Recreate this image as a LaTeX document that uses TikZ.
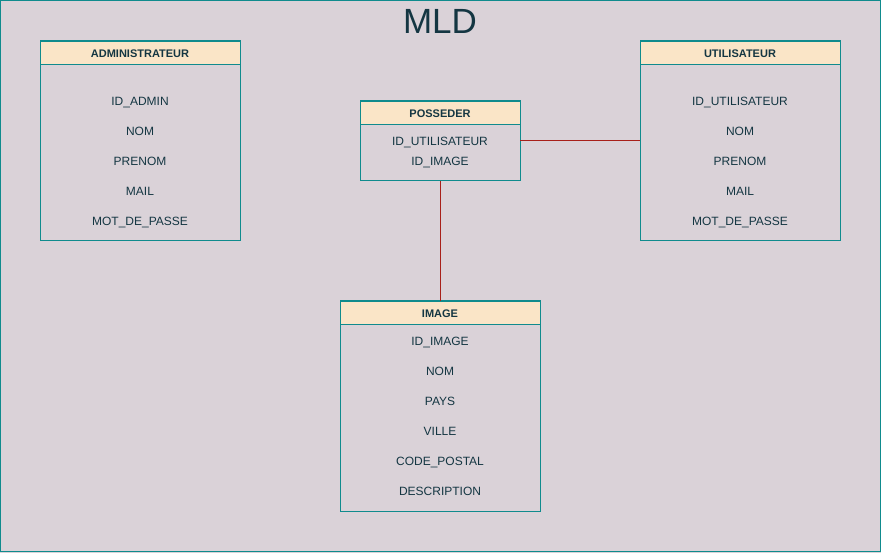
\documentclass[tikz,border=0pt]{standalone}
\usepackage{fontspec}
\setmainfont{Liberation Sans}
\definecolor{bgc}{HTML}{DAD2D8}
\definecolor{teal}{HTML}{0F8B8D}
\definecolor{ink}{HTML}{143642}
\definecolor{hdr}{HTML}{FAE5C7}
\definecolor{lnk}{HTML}{A8201A}
\begin{document}
\begin{tikzpicture}[x=1pt,y=-1pt,
  hdrbox/.style={draw=teal,line width=1pt,fill=hdr,inner sep=0pt,minimum width=200pt,minimum height=23pt},
  hdrtxt/.style={font=\fontsize{11}{13}\selectfont\bfseries,text=ink,inner sep=0pt,text height=7.9pt,text depth=0pt},
  fld/.style={font=\fontsize{12}{14}\selectfont,text=ink,inner sep=0pt,text height=8.6pt,text depth=0pt},
  ttl/.style={font=\fontsize{35}{40}\selectfont,text=ink,inner sep=0pt,text height=25pt,text depth=0pt},
  rel/.style={draw=lnk,line width=1pt}]
\useasboundingbox (0,0) rectangle (881,553);
\fill[bgc] (0,0) rectangle (881,553);
\draw[teal,line width=1pt] (0.5,1) rectangle (880.5,551.5);
\node[ttl] (title) at (440,21) {MLD};

% ADMINISTRATEUR
\draw[teal,line width=1pt] (40,41) rectangle (240,241);
\node[hdrbox,anchor=north west] (adminh) at (40,41) {};
\node[hdrtxt] (adminl) at (140,53.5) {ADMINISTRATEUR};
\node[fld] (a1) at (140,101) {ID\_ADMIN};
\node[fld] (a2) at (140,131) {NOM};
\node[fld] (a3) at (140,161) {PRENOM};
\node[fld] (a4) at (140,191) {MAIL};
\node[fld] (a5) at (140,221) {MOT\_DE\_PASSE};

% UTILISATEUR
\draw[teal,line width=1pt] (640,41) rectangle (840,241);
\coordinate (userl) at (640,141);
\node[hdrbox,anchor=north west] (userh) at (640,41) {};
\node[hdrtxt] (userlab) at (740,53.5) {UTILISATEUR};
\node[fld] (u1) at (740,101) {ID\_UTILISATEUR};
\node[fld] (u2) at (740,131) {NOM};
\node[fld] (u3) at (740,161) {PRENOM};
\node[fld] (u4) at (740,191) {MAIL};
\node[fld] (u5) at (740,221) {MOT\_DE\_PASSE};

% POSSEDER
\draw[teal,line width=1pt] (360,101) rectangle (520,181);
\coordinate (possr) at (520,141);
\coordinate (possb) at (440,181);
\node[hdrbox,minimum width=160pt,anchor=north west] (possh) at (360,101) {};
\node[hdrtxt] (posslab) at (440,113.5) {POSSEDER};
\node[fld] (p1) at (440,141) {ID\_UTILISATEUR};
\node[fld] (p2) at (440,161) {ID\_IMAGE};

% IMAGE
\draw[teal,line width=1pt] (340,301) rectangle (540,511);
\coordinate (imgt) at (440,301);
\node[hdrbox,anchor=north west] (imgh) at (340,301) {};
\node[hdrtxt] (imglab) at (440,313.5) {IMAGE};
\node[fld] (i1) at (440,341) {ID\_IMAGE};
\node[fld] (i2) at (440,371) {NOM};
\node[fld] (i3) at (440,401) {PAYS};
\node[fld] (i4) at (440,431) {VILLE};
\node[fld] (i5) at (440,461) {CODE\_POSTAL};
\node[fld] (i6) at (440,491) {DESCRIPTION};

\draw[rel] (possr) -- (userl);
\draw[rel] (possb) -- (imgt);
\end{tikzpicture}
\end{document}
